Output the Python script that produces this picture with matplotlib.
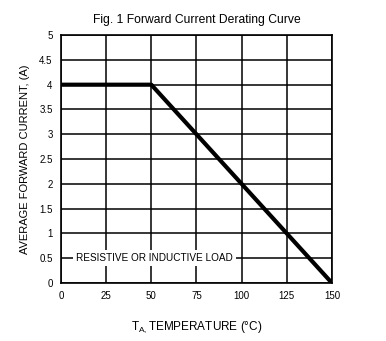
import matplotlib
matplotlib.use('Agg')
import matplotlib.pyplot as plt

plt.rcParams['font.family'] = ['Liberation Sans', 'DejaVu Sans']

# derating curve points
temp = [0, 50, 150]
current = [4, 4, 0]
xticks = [0, 25, 50, 75, 100, 125, 150]
yticks = [0, 0.5, 1, 1.5, 2, 2.5, 3, 3.5, 4, 4.5, 5]
ytick_labels = ['0', '0.5', '1', '1.5', '2', '2.5', '3', '3.5', '4', '4.5', '5']

fig = plt.figure(figsize=(3.86, 3.41), dpi=100)
ax = fig.add_axes([0.158, 0.170, 0.702, 0.727])

ax.plot(temp, current, color='black', lw=3, solid_capstyle='butt', zorder=3)
ax.set_xlim(0, 150)
ax.set_ylim(0, 5)
ax.set_xticks(xticks)
ax.set_yticks(yticks)
ax.set_yticklabels(ytick_labels)
ax.grid(True, color='black', lw=1.1)
for s in ax.spines.values():
    s.set_linewidth(1.2)
ax.tick_params(length=0, labelsize=7, pad=6)

ax.text(8.3, 0.5, 'RESISTIVE OR INDUCTIVE LOAD', fontsize=7.2, va='center', ha='left',
        bbox=dict(facecolor='white', edgecolor='none', pad=2), zorder=2)

ax.set_title('Fig. 1 Forward Current Derating Curve', fontsize=8.7, pad=9)
ax.set_xlabel(r'T$_{\mathregular{A,}}$TEMPERATURE (°C)', fontsize=8.5, labelpad=13)
ax.set_ylabel('AVERAGE FORWARD CURRENT, (A)', fontsize=8, labelpad=7)

fig.savefig('out.png', dpi=100)
